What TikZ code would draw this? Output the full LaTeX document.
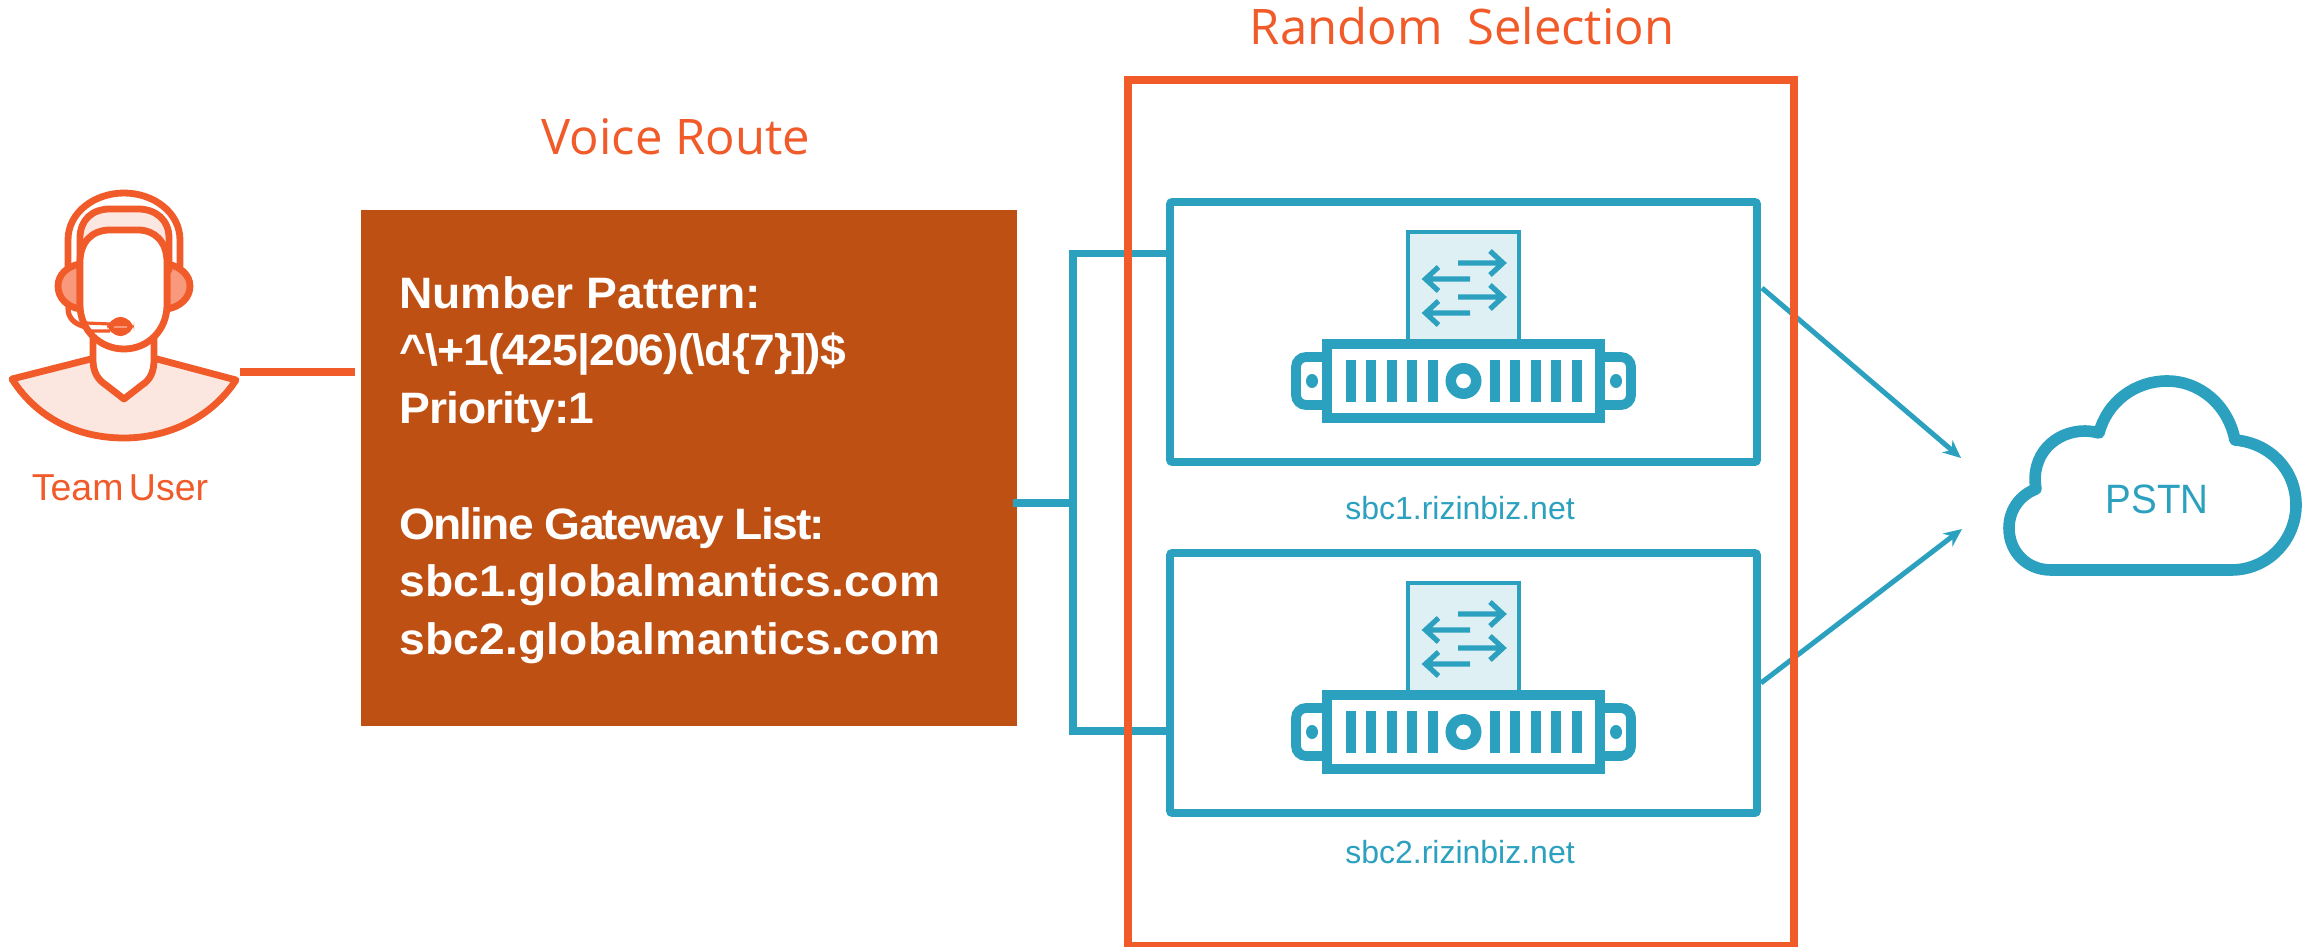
\documentclass[tikz,border=0pt]{standalone}
\usepackage{fontspec}
\usetikzlibrary{arrows.meta,calc}
\setmainfont{Liberation Sans}
\newfontfamily\headfont{Open Sans}
\newfontfamily\routefont[FakeStretch=1.05]{Liberation Sans}
\newfontfamily\thinfont[FakeStretch=0.94]{Liberation Sans}
\newcommand{\lsp}[2]{{\addfontfeature{LetterSpace=#1}#2}}
\definecolor{orng}{HTML}{F15A29}
\definecolor{brownbox}{HTML}{BF5013}
\definecolor{teal2}{HTML}{2BA1BF}
\definecolor{lteal}{HTML}{DFF0F5}
\definecolor{lorng}{HTML}{FCE6E0}
\definecolor{morng}{HTML}{F7997A}
\tikzset{
  x=0.5pt,y=-0.5pt,
  tealbox/.style={draw=teal2,line width=3.8pt,rectangle,minimum width=293.5pt,minimum height=130pt,inner sep=0pt,outer sep=0pt,rounded corners=1pt},
  redbox/.style={draw=orng,line width=4pt,rectangle,minimum width=333pt,minimum height=433pt,inner sep=0pt,outer sep=0pt},
  bus/.style={draw=teal2,line width=3.8pt,line cap=rect},
  flow/.style={draw=teal2,line width=2.5pt,-{Stealth[length=9pt,width=8pt]}},
  headtxt/.style={text=orng,font=\headfont\fontsize{24.5}{29}\selectfont,anchor=base,inner sep=0pt},
  sbctxt/.style={text=teal2,font=\fontsize{16}{19}\selectfont,anchor=base,inner sep=0pt},
  ico/.style={draw=orng,line width=3.4pt,line join=round,line cap=round},
  srv/.style={draw=teal2,line width=4.9pt},
  sarrow/.style={draw=teal2,line width=2.6pt},
  sbcicon/.pic={
    \fill[lteal] (1408,232) rectangle (1519,340);
    \draw[draw=teal2,line width=2pt] (1408,340) -- (1408,232) -- (1519,232) -- (1519,340);
    \draw[sarrow] (1458,263) -- (1503,263) (1490,251) -- (1503,263) -- (1490,275);
    \draw[sarrow] (1470,279) -- (1425.5,279) (1438.5,267) -- (1425.5,279) -- (1438.5,291);
    \draw[sarrow] (1458,297) -- (1503,297) (1490,285) -- (1503,297) -- (1490,309);
    \draw[sarrow] (1470,313) -- (1425.5,313) (1438.5,301) -- (1425.5,313) -- (1438.5,325);
    \draw[srv,rounded corners=5pt] (1327,357) -- (1296,357) -- (1296,405) -- (1327,405);
    \draw[srv,rounded corners=5pt] (1600,357) -- (1631,357) -- (1631,405) -- (1600,405);
    \fill[teal2] (1312,381) ellipse [x radius=6,y radius=7];
    \fill[teal2] (1616,381) ellipse [x radius=6,y radius=7];
    \draw[srv,fill=white] (1327,344) rectangle (1600,418);
    \foreach \bx in {1346,1366.4,1386.7,1407.1,1427.5,1490,1510.4,1530.8,1551.2,1571.6}
      \fill[teal2] (\bx,360) rectangle ++(10,42);
    \fill[teal2,even odd rule] (1463.5,381) ellipse [x radius=18,y radius=18] (1463.5,381) ellipse [x radius=7.5,y radius=7.5];
  }
}
\begin{document}
\begin{tikzpicture}
\useasboundingbox (0,0) rectangle (2315,947);
\fill[white] (0,0) rectangle (2315,947);

% --- user icon ---
\draw[ico,fill=lorng] (12,379) -- (91,359) -- (157,359) -- (236,380)
   .. controls (210,420) and (165,438) .. (124,438)
   .. controls (80,438) and (38,420) .. (12,379) -- cycle;
\draw[ico,fill=white] (93,335) -- (93,360) .. controls (93,372) and (98,380) .. (106,385) -- (124,399) -- (142,385)
   .. controls (150,380) and (154,372) .. (154,360) -- (154,335);
\draw[ico] (68,266) -- (68,240) .. controls (68,212) and (95,193) .. (124,193)
   .. controls (153,193) and (180,212) .. (180,240) -- (180,266);
\draw[ico,fill=morng] (80,264) .. controls (67,266) and (58,275) .. (58,286) .. controls (58,298) and (67,307) .. (80,309) -- cycle;
\draw[ico,fill=morng] (167,264) .. controls (180,266) and (190,275) .. (190,286) .. controls (190,298) and (180,307) .. (167,309) -- cycle;
\draw[ico,fill=lorng] (80,270) -- (80,238) .. controls (80,220) and (92,209) .. (110,209) -- (138,209)
   .. controls (156,209) and (169,220) .. (169,238) -- (169,270) -- cycle;
\draw[ico,fill=white] (80,262) .. controls (80,242) and (92,230) .. (110,230) -- (138,230)
   .. controls (155,230) and (167,242) .. (167,262) -- (167,305)
   .. controls (167,330) and (148,349) .. (124,349) .. controls (100,349) and (80,330) .. (80,305) -- cycle;
\draw[ico,line width=2.6pt] (68,308) .. controls (68,318) and (74,324) .. (86,327);
\draw[draw=orng,line width=1.6pt] (86,323) -- (110,324) (91,331) -- (110,331);
\fill[orng,rounded corners=7pt] (107,317) rectangle (134,336);
\fill[morng] (114,325.5) rectangle (127,328);

\node[text=orng,font=\fontsize{18.75}{22}\selectfont,anchor=base,inner sep=0pt] (team) at (120,500) {Team\hspace{-2.5pt} User};
\coordinate (userport) at (240,372);
\coordinate (routeport) at (355,372);
\draw[draw=orng,line width=4pt] (userport) -- (routeport);

% --- voice route ---
\node[headtxt] (vrt) at (676,155) {Voice Route};
\node[fill=brownbox,rectangle,minimum width=328pt,minimum height=257.75pt,inner sep=0pt,outer sep=0pt,anchor=north west] (route) at (361,210) {};
\node[text=white,font=\routefont\bfseries\fontsize{22}{28.85}\selectfont,align=left,anchor=north west,inner sep=0pt] (routetxt) at (399,276)
 {Number Pattern:\\\lsp{-2}{\textasciicircum\textbackslash+1(425|206)(\textbackslash d\{7\}])\$}\\\lsp{-2}{Priority:1}\\[28.85pt]\lsp{-4.2}{Online Gateway List:}\\\lsp{0.45}{sbc1.globalmantics.com}\\\lsp{0.45}{sbc2.globalmantics.com}};

% --- SBC boxes ---
\node[tealbox,anchor=north west] (sbcA) at (1170,202) {};
\node[tealbox,anchor=north west] (sbcB) at (1170,553) {};
\pic at (0,0) {sbcicon};
\pic at (0,351) {sbcicon};
\node[sbctxt] (sbcAl) at (1460,519) {sbc1.rizinbiz.net};
\node[sbctxt] (sbcBl) at (1460,863) {sbc2.rizinbiz.net};

% --- bus connector ---
\coordinate (busm) at (1073,503);
\coordinate (bust) at (1073,253.5);
\coordinate (busb) at (1073,731);
\draw[bus] (route.east |- busm) -- (busm);
\draw[bus] (sbcA.west |- bust) -- (bust) -- (busb) -- (sbcB.west |- busb);

% --- arrows ---
\coordinate (a1s) at (1762,288);
\coordinate (a1e) at (1961,458);
\coordinate (a2s) at (1761,683);
\coordinate (a2e) at (1962,529);
\draw[flow] (a1s) -- (a1e);
\draw[flow] (a2s) -- (a2e);

% --- random selection ---
\node[redbox,anchor=north west] (rand) at (1128,80) {};
\node[headtxt] (randl) at (1462,45) {Random\hspace{6pt} Selection};

% --- cloud ---
\draw[draw=teal2,line width=5.8pt,line join=round] (2051,570) .. controls (2027,570) and (2009,552) .. (2009,528)
  .. controls (2009,510) and (2020,495) .. (2036,489)
  .. controls (2030,455) and (2055,431) .. (2085,431)
  .. controls (2090,431) and (2095,432) .. (2099,433)
  .. controls (2107,402) and (2135,381) .. (2167,381)
  .. controls (2200,381) and (2228,405) .. (2235,440)
  .. controls (2270,443) and (2296,470) .. (2296,505)
  .. controls (2296,540) and (2268,570) .. (2231,570) -- cycle;
\node[text=teal2,font=\thinfont\fontsize{20.5}{24}\selectfont,anchor=base,inner sep=0pt] (pstn) at (2157,513) {PSTN};
\end{tikzpicture}
\end{document}
